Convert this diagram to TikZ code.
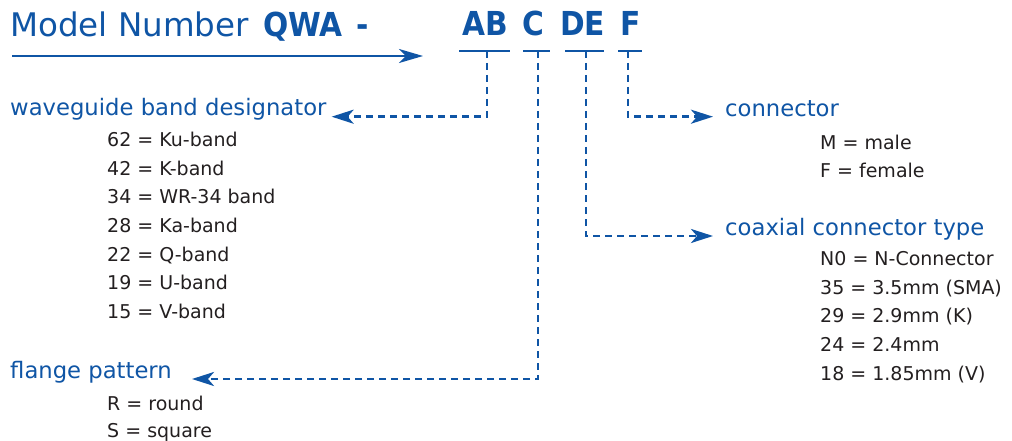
\documentclass[tikz,border=0pt]{standalone}
\usepackage{fontspec}
\setmainfont{DejaVu Sans}
\newfontfamily\codefont{DejaVu Sans Condensed}
\usetikzlibrary{arrows.meta,positioning,calc}
\definecolor{qwablue}{HTML}{0F55A5}
\definecolor{itemtext}{HTML}{231F20}

\begin{document}
\begin{tikzpicture}[
  x=1pt, y=-1pt,
  title/.style={anchor=base west, inner sep=0pt, text=qwablue, font=\fontsize{32.5}{40}\selectfont},
  code/.style={anchor=base west, inner sep=0pt, text=qwablue, font=\fontsize{33}{40}\codefont\bfseries},
  head/.style={anchor=base west, inner sep=0pt, text=qwablue, font=\fontsize{22.7}{28}\selectfont},
  item/.style={anchor=base west, inner sep=0pt, text=itemtext, font=\fontsize{19}{23}\selectfont},
  bar/.style={draw=qwablue, line width=2.8pt},
  link/.style={draw=qwablue, line width=2.8pt, dash pattern=on 7pt off 5pt, -{Stealth[length=22pt,width=14pt,inset=6pt]}},
  >=Latex
]
\useasboundingbox (0,0) rectangle (1012,441);

% model number line
\node[title] (model) at (10,37) {Model Number};
\node[code] (qwa) at (263,37) {QWA};
\node[code] (dash) at (356,37) {-};
\coordinate (feedstart) at (12,56);
\coordinate (feedend) at (423,56);
\draw[qwablue, line width=2.6pt, -{Stealth[length=24pt,width=14pt,inset=7pt]}] (feedstart) -- (feedend);

\node[code] (ab) at (462,36) {AB};
\node[code] (c) at (522,36) {C};
\node[code] (de) at (560,36) {DE};
\node[code] (f) at (620,36) {F};

\draw[bar] (459,51) -- (510,51);
\draw[bar] (523,51) -- (550,51);
\draw[bar] (565,51) -- (604,51);
\draw[bar] (618,51) -- (642,51);

\coordinate (abdrop) at (487,51);
\coordinate (cdrop) at (538,51);
\coordinate (dedrop) at (586,51);
\coordinate (fdrop) at (628,51);

% headings
\node[head] (band) at (10,115.7) {waveguide band designator};
\node[head] (flange) at (10,378) {flange pattern};
\node[head] (conn) at (725,116.7) {connector};
\node[head] (coax) at (725,235) {coaxial connector type};

% option lists
\foreach \entry [count=\i] in {62 = Ku-band, 42 = K-band, 34 = WR-34 band, 28 = Ka-band, 22 = Q-band, 19 = U-band, 15 = V-band}
  \node[item] (band\i) at (107,{146.7+28.6*(\i-1)}) {\entry};
\foreach \entry [count=\i] in {R = round, S = square}
  \node[item] (flange\i) at (107,{410+27*(\i-1)}) {\entry};
\foreach \entry [count=\i] in {M = male, F = female}
  \node[item] (conn\i) at (820,{149.3+28*(\i-1)}) {\entry};
\foreach \entry [count=\i] in {N0 = N-Connector, 35 = 3.5mm (SMA), 29 = 2.9mm (K), 24 = 2.4mm, 18 = 1.85mm (V)}
  \node[item] (coax\i) at (820,{265.7+28.6*(\i-1)}) {\entry};

% dashed leaders
\draw[link] (abdrop) |- ([xshift=5pt,yshift=-1pt]band.base east);
\draw[link] (cdrop) |- ([xshift=20pt,yshift=-1pt]flange.base east);
\draw[link] (fdrop) |- ([xshift=-12pt]conn.base west);
\draw[link] (dedrop) |- ([xshift=-12pt,yshift=-1pt]coax.base west);
\end{tikzpicture}
\end{document}
